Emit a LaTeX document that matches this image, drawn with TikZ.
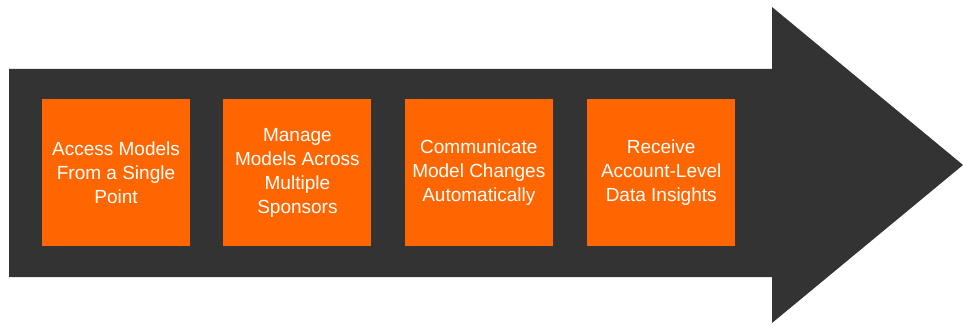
\documentclass[tikz,border=0pt]{standalone}
\usepackage{fontspec}
\setmainfont{Liberation Sans}
\usepackage{tikz}
\usetikzlibrary{calc}
\usetikzlibrary{positioning}
\definecolor{arrowgray}{HTML}{333333}
\definecolor{stepor}{HTML}{FF6600}
\tikzset{inv/.style={opacity=0}}
\tikzset{stepbox/.style={fill=stepor,draw=none,text=white,minimum width=148pt,minimum height=147pt,inner sep=0pt,align=center,font=\fontsize{19}{24}\selectfont}}

\begin{document}
\begin{tikzpicture}[x=1pt,y=-1pt]

\fill[white] (0,0) rectangle (963,326);
\useasboundingbox (0,0) rectangle (963,326);

\fill[arrowgray] (9,69) -- (772,69) -- (772,7) -- (963,165) -- (772,323) -- (772,277) -- (9,277) -- cycle;

\node[stepbox] (b1) at (116,172.5) {Access Models\\From a Single\\Point};
\node[stepbox, right=33pt of b1] (b2) {Manage\\Models Across\\Multiple\\Sponsors};
\node[stepbox, right=33pt of b2] (b3) {Communicate\\Model Changes\\Automatically};
\node[stepbox, right=34pt of b3] (b4) {Receive\\Account-Level\\Data Insights};

\end{tikzpicture}
\end{document}
